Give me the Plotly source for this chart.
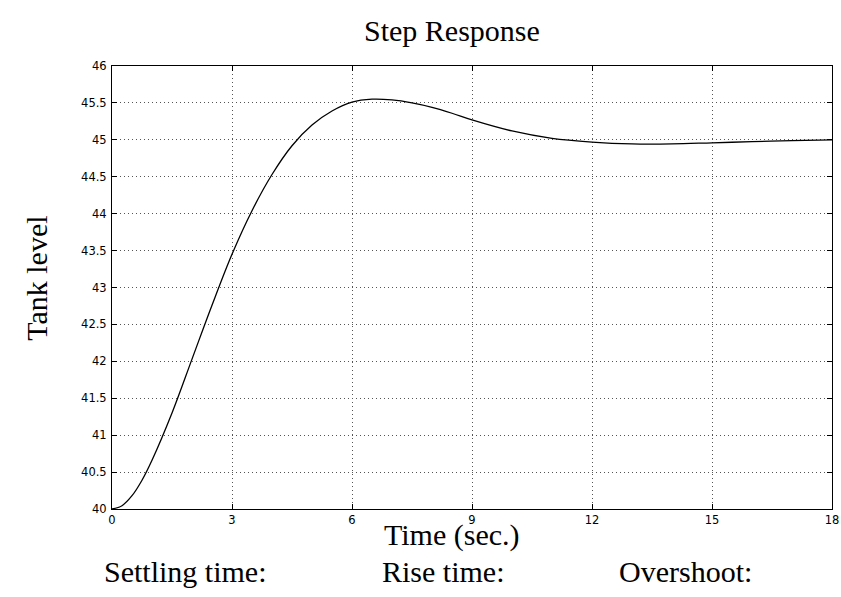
import plotly.graph_objects as go

# Step response samples
time_s = [0, 0.25, 0.5, 0.75, 1, 1.5, 2, 2.5, 3, 3.5, 4, 4.5, 5, 5.5, 6, 6.5, 7, 7.5,
          8, 8.5, 9, 10, 11, 12, 13, 14, 15, 16, 17, 18]
tank_level = [40.0, 40.045, 40.18, 40.39, 40.66, 41.30, 42.03, 42.76, 43.45, 44.04,
              44.53, 44.92, 45.20, 45.39, 45.51, 45.55, 45.54, 45.50, 45.44, 45.36,
              45.27, 45.12, 45.02, 44.97, 44.945, 44.945, 44.96, 44.975, 44.99, 45.0]

x_ticks = [0, 3, 6, 9, 12, 15, 18]
y_ticks = [40, 40.5, 41, 41.5, 42, 42.5, 43, 43.5, 44, 44.5, 45, 45.5, 46]
y_tick_text = ["40", "40.5", "41", "41.5", "42", "42.5", "43", "43.5", "44",
               "44.5", "45", "45.5", "46"]

title_text = "Step Response"
x_label = "Time (sec.)"
y_label = "Tank level"
footer_labels = ["Settling time:", "Rise time:", "Overshoot:"]
footer_x = [0.102, 0.461, 0.797]

serif = "Liberation Serif"
big = 30
tick_font = dict(family="DejaVu Sans", size=11.5, color="black")

fig = go.Figure()
fig.add_trace(go.Scatter(x=time_s, y=tank_level, mode="lines",
                         line=dict(color="black", width=1.3, shape="spline", smoothing=1.0),
                         showlegend=False, hoverinfo="skip"))

axis_common = dict(showline=True, linecolor="black", linewidth=1, mirror="ticks",
                   ticks="inside", ticklen=5, tickcolor="black", tickwidth=1,
                   showgrid=True, gridcolor="#555", gridwidth=1, griddash="1px,3px",
                   zeroline=False, tickfont=tick_font)

fig.update_xaxes(range=[0, 18], tickvals=x_ticks, ticktext=[str(v) for v in x_ticks],
                 **axis_common)
fig.update_yaxes(range=[40, 46], tickvals=y_ticks, ticktext=y_tick_text,
                 ticklabelstandoff=2, **axis_common)

annotations = [
    dict(text=title_text, x=0.472, y=1.081, xref="paper", yref="paper",
         xanchor="center", yanchor="middle", showarrow=False,
         font=dict(family=serif, size=big, color="black")),
    dict(text=x_label, x=0.472, y=-0.0587, xref="paper", yref="paper",
         xanchor="center", yanchor="middle", showarrow=False,
         font=dict(family=serif, size=big, color="black")),
    dict(text=y_label, x=-0.104, y=0.52, xref="paper", yref="paper",
         xanchor="center", yanchor="middle", showarrow=False, textangle=-90,
         font=dict(family=serif, size=big, color="black")),
]
for lbl, fx in zip(footer_labels, footer_x):
    annotations.append(dict(text=lbl, x=fx, y=-0.142, xref="paper", yref="paper",
                            xanchor="center", yanchor="middle", showarrow=False,
                            font=dict(family=serif, size=big, color="black")))

fig.update_layout(width=841, height=597,
                  margin=dict(l=112, r=9, t=66, b=88, autoexpand=False),
                  plot_bgcolor="white", paper_bgcolor="white",
                  annotations=annotations)

fig.write_html("out.html")
